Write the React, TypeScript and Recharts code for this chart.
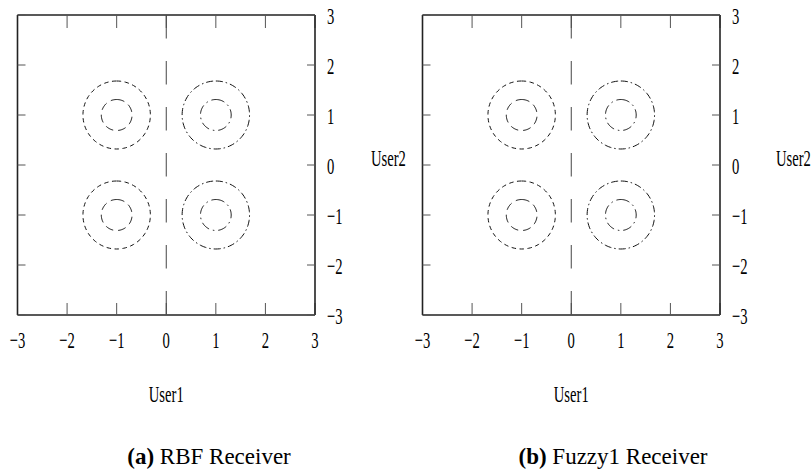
import React from 'react';
import { ComposedChart, Scatter, XAxis, YAxis, Label } from 'recharts';

// ---- data ----
const axisTicks = [-3, -2, -1, 0, 1, 2, 3];
const axisDomain = [-3, 3];
const clusterCentersX = [-1, -1, 1, 1];
const clusterCentersY = [1, -1, 1, -1];
const contourRadii = [0.68, 0.31]; // outer, inner contour
const boundaryX = [0, 0];
const boundaryY = [3, -3];
const panelTitles = ['(a)', '(b)'];
const panelNames = ['RBF Receiver', 'Fuzzy1 Receiver'];
const xTitle = 'User1';
const yTitle = 'User2';

const SERIF = "'Liberation Serif', 'Times New Roman', Times, serif";
const SX = 0.61;

const fmt = (v: number) => (v < 0 ? `\u2212${Math.abs(v)}` : `${v}`);

// circle outline points (geometry of a contour of given center/radius)
const circlePoints = (cx: number, cy: number, r: number) => {
  const pts: { x: number; y: number }[] = [];
  const n = 120;
  for (let i = 0; i <= n; i++) {
    const a = Math.PI / 2 - (2 * Math.PI * i) / n;
    pts.push({ x: cx + r * Math.cos(a), y: cy + r * Math.sin(a) });
  }
  return pts;
};

const boundaryData = boundaryX.map((x, i) => ({ x, y: boundaryY[i] }));

const CondText = ({ x, y, anchor, children, size = 24 }: any) => (
  <text
    transform={`translate(${x},${y}) scale(${SX},1)`}
    textAnchor={anchor}
    style={{ fontFamily: SERIF, fontSize: size }}
    fill="#000"
  >
    {children}
  </text>
);

const XTick = (props: any) => {
  const { x, y, payload } = props;
  return <CondText x={x} y={y} anchor="middle">{fmt(payload.value)}</CondText>;
};

const YTick = (props: any) => {
  const { x, y, payload } = props;
  return <CondText x={x} y={y + 9} anchor="start">{fmt(payload.value)}</CondText>;
};

const Empty = () => <g />;

const dashOuter = ['4.5 3.5', '4.5 3.5', '7 3 1.5 3', '7 3 1.5 3'];
const dashInner = ['8 5', '8 5', '9 4 1.5 4', '9 4 1.5 4'];

const frame = { stroke: '#222', strokeWidth: 1.6 };
const tickLn = { stroke: '#555', strokeWidth: 1 };

const Panel = ({ left }: { left: number }) => {
  const W = 420;
  const H = 472;
  return (
    <div style={{ position: 'absolute', left, top: 0, width: W, height: H }}>
      <ComposedChart
        width={W}
        height={H}
        margin={{ top: 14, right: 45, bottom: 97, left: 16.5 }}
        style={{ overflow: 'visible' }}
      >
        <XAxis
          xAxisId={0}
          type="number"
          dataKey="x"
          domain={axisDomain}
          ticks={axisTicks}
          allowDataOverflow
          orientation="bottom"
          height={60}
          tickSize={-12}
          tickMargin={45}
          tick={<XTick />}
          axisLine={frame}
          tickLine={tickLn}
        >
          <Label
            content={(p: any) => {
              const vb = p.viewBox || { x: 17.5, y: 315, width: 297.5 };
              return (
                <CondText x={vb.x + vb.width / 2} y={vb.y + 87} anchor="middle">
                  {xTitle}
                </CondText>
              );
            }}
          />
        </XAxis>
        <XAxis
          xAxisId="top"
          type="number"
          dataKey="x"
          domain={axisDomain}
          ticks={axisTicks}
          allowDataOverflow
          orientation="top"
          height={1}
          tickSize={-13}
          tick={<Empty />}
          axisLine={frame}
          tickLine={tickLn}
        />
        <YAxis
          yAxisId={0}
          type="number"
          dataKey="y"
          domain={axisDomain}
          ticks={axisTicks}
          allowDataOverflow
          orientation="right"
          width={60}
          tickSize={-8}
          tickMargin={20}
          tick={<YTick />}
          axisLine={frame}
          tickLine={tickLn}
        >
          <Label
            content={(p: any) => {
              const vb = p.viewBox || { x: 315, y: 15, height: 300 };
              return (
                <CondText x={vb.x + 56} y={vb.y + vb.height / 2 + 1} anchor="start">
                  {yTitle}
                </CondText>
              );
            }}
          />
        </YAxis>
        <YAxis
          yAxisId="left"
          type="number"
          dataKey="y"
          domain={axisDomain}
          ticks={axisTicks}
          allowDataOverflow
          orientation="left"
          width={1}
          tickSize={-8}
          tick={<Empty />}
          axisLine={frame}
          tickLine={tickLn}
        />
        <Scatter
          data={boundaryData}
          xAxisId="top"
          yAxisId="left"
          dataKey="y"
          isAnimationActive={false}
          shape={<Empty />}
          legendType="none"
        />
        <Scatter
          data={boundaryData}
          dataKey="y"
          isAnimationActive={false}
          shape={<Empty />}
          line={{ stroke: '#444', strokeWidth: 1, strokeDasharray: '23.5 22.5' }}
          legendType="none"
        />
        {clusterCentersX.map((cx, i) => (
          <Scatter
            key={`o${i}`}
            data={circlePoints(cx, clusterCentersY[i], contourRadii[0])}
            dataKey="y"
            isAnimationActive={false}
            shape={<Empty />}
            line={{ stroke: '#111', strokeWidth: 1, strokeDasharray: dashOuter[i] }}
            legendType="none"
          />
        ))}
        {clusterCentersX.map((cx, i) => (
          <Scatter
            key={`i${i}`}
            data={circlePoints(cx, clusterCentersY[i], contourRadii[1])}
            dataKey="y"
            isAnimationActive={false}
            shape={<Empty />}
            line={{ stroke: '#111', strokeWidth: 1, strokeDasharray: dashInner[i] }}
            legendType="none"
          />
        ))}
      </ComposedChart>
    </div>
  );
};

export default function App() {
  return (
    <div style={{ position: 'absolute', left: 0, top: 0, width: 811, height: 472, background: '#fff', overflow: 'hidden' }}>
      <Panel left={0} />
      <Panel left={404.5} />
      <svg width={811} height={472} style={{ position: 'absolute', left: 0, top: 0, pointerEvents: 'none' }}>
        {[209, 613].map((cx, i) => (
          <text key={i} x={cx} y={464} textAnchor="middle" style={{ fontFamily: SERIF, fontSize: 23 }} fill="#000">
            <tspan fontWeight="bold">{panelTitles[i]}</tspan>
            <tspan>{' ' + panelNames[i]}</tspan>
          </text>
        ))}
      </svg>
    </div>
  );
}
